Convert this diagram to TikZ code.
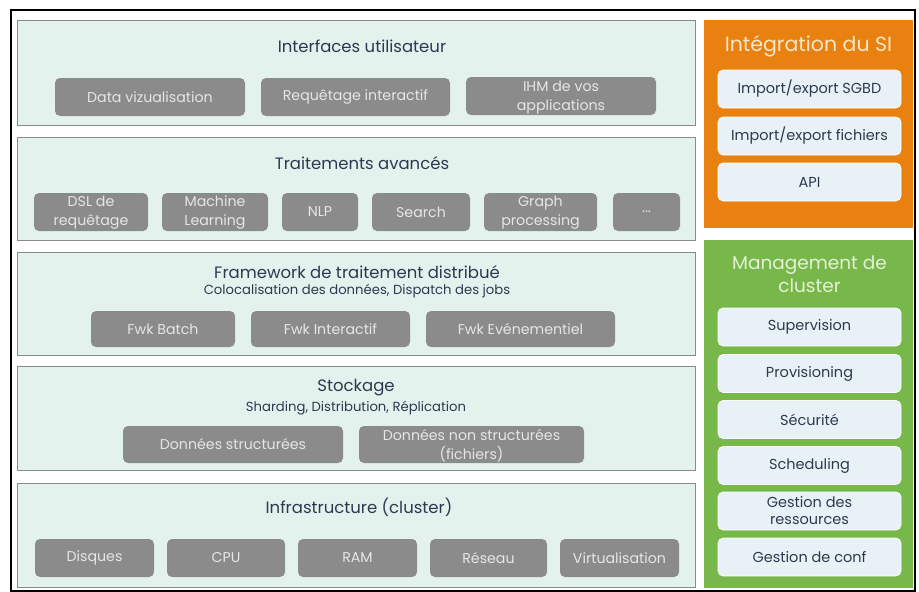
\documentclass[tikz,border=0pt]{standalone}
\usepackage{fontspec}
\setmainfont{Poppins}
\definecolor{panelfill}{HTML}{E4F2EE}
\definecolor{panelline}{HTML}{8A8A8A}
\definecolor{chip}{HTML}{8B8B8B}
\definecolor{chiptext}{HTML}{E6E6E6}
\definecolor{navy}{HTML}{2B3A50}
\definecolor{siorange}{HTML}{E8810F}
\definecolor{sititle}{HTML}{FCE6C6}
\definecolor{mgmtgreen}{HTML}{78B749}
\definecolor{mgmttitle}{HTML}{E3F2D6}
\definecolor{itemfill}{HTML}{E8F2F6}
\begin{document}
\begin{tikzpicture}[x=1pt,y=-1pt,
  panel/.style={draw=panelline, line width=1.4pt, fill=panelfill, rectangle, anchor=north west, inner sep=0pt},
  chipbox/.style={fill=chip, rounded corners=5pt, text=chiptext, align=center, inner sep=0pt,
    font=\fontsize{14.2}{19}\selectfont, minimum height=38pt},
  layertitle/.style={text=navy, font=\fontsize{16.5}{18}\selectfont, inner sep=0pt},
  layersub/.style={text=navy, font=\fontsize{13.2}{14}\selectfont, inner sep=0pt},
  sidepanel/.style={rectangle, anchor=north west, inner sep=0pt},
  sidetitle/.style={align=center, inner sep=0pt},
  itembox/.style={fill=itemfill, draw=white, line width=0.6pt, rounded corners=5pt, text=navy, align=center,
    inner sep=0pt, minimum width=183pt, minimum height=38pt, font=\fontsize{14.5}{17}\selectfont}
]
\useasboundingbox (0,0) rectangle (919,592);
\fill[white] (0,0) rectangle (919,592);
% outer frame
\draw[line width=2.4pt, black] (11,10) rectangle (915,591);

% ---- stacked layers ----
\node[panel, minimum width=678pt, minimum height=105pt] (p1) at (17,20) {};
\node[panel, minimum width=678pt, minimum height=103pt] (p2) at (17,137) {};
\node[panel, minimum width=678pt, minimum height=103pt] (p3) at (17,252) {};
\node[panel, minimum width=678pt, minimum height=104pt] (p4) at (17,366) {};
\node[panel, minimum width=678pt, minimum height=104pt] (p5) at (17,483) {};

% Interfaces utilisateur
\node[layertitle] (t1) at (362,46) {Interfaces utilisateur};
\node[chipbox, minimum width=190pt] (dv) at (150,97) {Data vizualisation};
\node[chipbox, minimum width=189pt] (rq) at (355.5,97) {Requêtage interactif};
\node[chipbox, minimum width=190pt] (ihm) at (561,96) {};
\node[text=chiptext, align=center, inner sep=0pt, font=\fontsize{14.2}{19}\selectfont] (ihmt) at (561,98) {IHM de vos\\applications};

% Traitements avancés
\node[layertitle] (t2) at (362,163) {Traitements avancés};
\node[chipbox, minimum width=114pt] (dsl) at (91,212) {};
\node[text=chiptext, align=center, inner sep=0pt, font=\fontsize{14.2}{19}\selectfont] (dslt) at (91,213) {DSL de\\requêtage};
\node[chipbox, minimum width=106pt] (ml) at (215,212) {};
\node[text=chiptext, align=center, inner sep=0pt, font=\fontsize{14.2}{19}\selectfont] (mlt) at (215,213) {Machine\\Learning};
\node[chipbox, minimum width=76pt] (nlp) at (320,212) {NLP};
\node[chipbox, minimum width=98pt] (srch) at (421,212) {Search};
\node[chipbox, minimum width=113pt] (gp) at (540.5,212) {};
\node[text=chiptext, align=center, inner sep=0pt, font=\fontsize{14.2}{19}\selectfont] (gpt) at (540.5,213) {Graph\\processing};
\node[chipbox, minimum width=67pt] (etc) at (646.5,212) {...};

% Framework de traitement distribué
\node[layertitle] (t3) at (357,272) {Framework de traitement distribué};
\node[layersub] (s3) at (357,291) {Colocalisation des données, Dispatch des jobs};
\node[chipbox, minimum width=144pt, minimum height=36pt] (fb) at (163,329) {Fwk Batch};
\node[chipbox, minimum width=159pt, minimum height=36pt] (fi) at (330.5,329) {Fwk Interactif};
\node[chipbox, minimum width=189pt, minimum height=36pt] (fe) at (520.5,329) {Fwk Evénementiel};

% Stockage
\node[layertitle] (t4) at (356,388) {Stockage};
\node[layersub] (s4) at (356,408) {Sharding, Distribution, Réplication};
\node[chipbox, minimum width=220pt, minimum height=37pt] (ds) at (233,444.5) {Données structurées};
\node[chipbox, minimum width=225pt, minimum height=37pt] (dns) at (471.5,444.5) {};
\node[text=chiptext, align=center, inner sep=0pt, font=\fontsize{14.2}{19}\selectfont] (dnst) at (471.5,446) {Données non structurées\\(fichiers)};

% Infrastructure
\node[layertitle] (t5) at (359,507) {Infrastructure (cluster)};
\node[chipbox, minimum width=119pt] (dsk) at (94.5,558) {Disques};
\node[chipbox, minimum width=118pt] (cpu) at (226,558) {CPU};
\node[chipbox, minimum width=119pt] (ram) at (357.5,558) {RAM};
\node[chipbox, minimum width=117pt] (net) at (488.5,558) {Réseau};
\node[chipbox, minimum width=119pt] (virt) at (619.5,558) {Virtualisation};

% ---- Intégration du SI ----
\node[sidepanel, fill=siorange, minimum width=209pt, minimum height=208pt] (si) at (704,20) {};
\node[sidetitle, text=sititle, font=\fontsize{20.5}{24}\selectfont] (sit) at (808.5,46) {Intégration du SI};
\node[itembox] (sgbd) at (809.5,89) {Import/export SGBD};
\node[itembox] (fich) at (809.5,136) {Import/export fichiers};
\node[itembox] (api) at (809.5,182) {API};

% ---- Management de cluster ----
\node[sidepanel, fill=mgmtgreen, minimum width=209pt, minimum height=348pt] (mg) at (704,240) {};
\node[sidetitle, text=mgmttitle, font=\fontsize{18.5}{23}\selectfont] (mgt) at (809.5,274) {Management de\\cluster};
\node[itembox] (sup) at (809.5,327) {Supervision};
\node[itembox] (prov) at (809.5,373.5) {Provisioning};
\node[itembox] (sec) at (809.5,419.5) {Sécurité};
\node[itembox] (sched) at (809.5,465.5) {Scheduling};
\node[itembox] (res) at (809.5,511) {Gestion des\\ressources};
\node[itembox] (conf) at (809.5,557) {Gestion de conf};
\end{tikzpicture}
\end{document}
